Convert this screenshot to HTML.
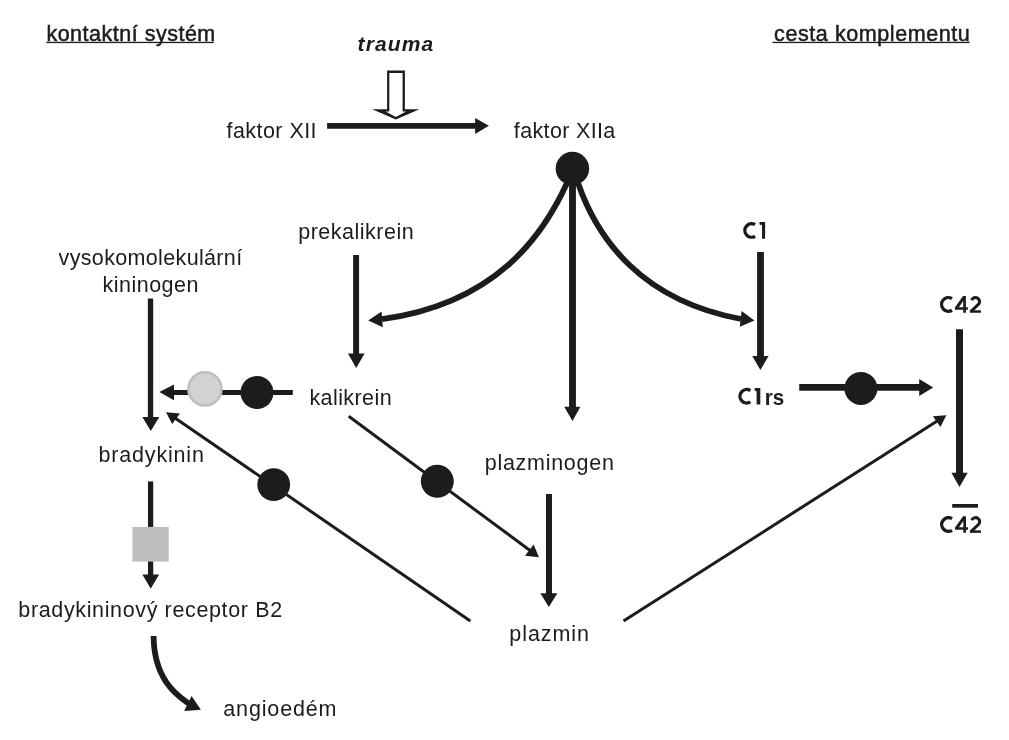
<!DOCTYPE html>
<html><head><meta charset="utf-8">
<style>
html,body{margin:0;padding:0;background:#fff;}
body{width:1009px;height:740px;overflow:hidden;}
svg{display:block;will-change:transform;}
text{font-family:"Liberation Sans",sans-serif;fill:#1d1b1e;}
.t{font-size:21.5px;}
.h{stroke:#1d1b1e;stroke-width:0.5px;}
.b{font-size:23.5px;font-weight:bold;}
</style></head>
<body>
<svg width="1009" height="740" viewBox="0 0 1009 740">
<g fill="#1d1b1e" stroke="none">
<!-- headers -->
<text class="t h" x="46.39" y="40.8" textLength="168.90" lengthAdjust="spacing">kontaktní systém</text>
<rect x="46.2" y="41.8" width="167.6" height="1.3"/>
<text class="t h" x="774.07" y="40.8" textLength="195.76" lengthAdjust="spacing">cesta komplementu</text>
<rect x="772.5" y="41.8" width="197.2" height="1.3"/>
<text x="357.52" y="50.9" style="font-size:21px;font-weight:bold;font-style:italic" textLength="75.71" lengthAdjust="spacing">trauma</text>

<text class="t" x="226.51" y="137.9" textLength="90.09" lengthAdjust="spacing">faktor XII</text>
<text class="t" x="513.85" y="137.6" textLength="101.49" lengthAdjust="spacing">faktor XIIa</text>
<text class="t" x="298.17" y="238.9" textLength="115.54" lengthAdjust="spacing">prekalikrein</text>
<path d="M755.09,224.64 A6.75,6.75 0 1 0 755.09,236.21" fill="none" stroke="#1d1b1e" stroke-width="3.35"/>
<polygon points="759.5,222.05 765.1,222.05 765.1,238.8 762.05,238.8 762.05,225.3 759.5,224.6"/>
<text class="t" x="58.60" y="264.8" textLength="183.56" lengthAdjust="spacing">vysokomolekulární</text>
<text class="t" x="102.47" y="291.8" textLength="96.00" lengthAdjust="spacing">kininogen</text>
<text class="t" x="309.47" y="404.7" textLength="82.16" lengthAdjust="spacing">kalikrein</text>
<path d="M750.32,390.65 A6.7,6.7 0 1 0 750.32,401.85" fill="none" stroke="#1d1b1e" stroke-width="3.35"/>
<polygon points="754.6,387.9 760.3,387.9 760.3,404.6 756.6,404.6 756.6,391.2 754.6,390.5"/>
<text class="b" style="font-size:21.5px" x="764.63" y="404.6" textLength="19.46" lengthAdjust="spacingAndGlyphs">rs</text>
<text class="t" x="98.44" y="461.8" textLength="105.51" lengthAdjust="spacing">bradykinin</text>
<text class="t" x="484.74" y="469.8" textLength="129.13" lengthAdjust="spacing">plazminogen</text>
<g>
<path d="M951.94,298.56 A6.825,6.825 0 1 0 951.94,310.24" fill="none" stroke="#1d1b1e" stroke-width="3.35"/>
<path fill-rule="evenodd" d="M963.0,296.05 L965.9,296.05 L965.9,307.2 L967.9,307.2 L967.9,309.7 L965.9,309.7 L965.9,312.75 L963.2,312.75 L963.2,309.7 L954.9,309.7 L954.9,307.5 Z M963.2,300.9 L963.2,307.2 L958.9,307.2 Z"/>
<path d="M971.7,300.2 A4.05,4.05 0 1 1 978.6,304.2 L970.9,311.5" fill="none" stroke="#1d1b1e" stroke-width="3.1"/>
<rect x="969.8" y="310.3" width="11.1" height="2.45"/>
</g>
<g transform="translate(0.1,220.1)">
<path d="M951.94,298.56 A6.825,6.825 0 1 0 951.94,310.24" fill="none" stroke="#1d1b1e" stroke-width="3.35"/>
<path fill-rule="evenodd" d="M963.0,296.05 L965.9,296.05 L965.9,307.2 L967.9,307.2 L967.9,309.7 L965.9,309.7 L965.9,312.75 L963.2,312.75 L963.2,309.7 L954.9,309.7 L954.9,307.5 Z M963.2,300.9 L963.2,307.2 L958.9,307.2 Z"/>
<path d="M971.7,300.2 A4.05,4.05 0 1 1 978.6,304.2 L970.9,311.5" fill="none" stroke="#1d1b1e" stroke-width="3.1"/>
<rect x="969.8" y="310.3" width="11.1" height="2.45"/>
</g>
<rect x="952.2" y="504" width="25.8" height="3.7"/>
<text class="t" x="18.36" y="616.7" textLength="263.75" lengthAdjust="spacing">bradykininový receptor B2</text>
<text class="t" x="509.33" y="640.5" textLength="79.71" lengthAdjust="spacing">plazmin</text>
<text class="t" x="223.29" y="715.5" textLength="113.24" lengthAdjust="spacing">angioedém</text>
</g>

<!-- hollow trauma arrow -->
<polygon points="387.1,70.5 404.9,70.5 404.9,109.2 419.5,109.2 395.8,119.5 372.1,109.2 387.1,109.2" fill="#1d1b1e"/>
<polygon points="389.3,73.1 402.6,73.1 402.6,111.6 406,111.6 395.8,116.9 385.7,111.6 389.3,111.6" fill="#fff"/>

<g stroke="#1d1b1e" fill="none">
<!-- faktor XII -> XIIa -->
<line x1="327.1" y1="125.9" x2="476" y2="125.9" stroke-width="5.85"/>
<!-- center vertical -->
<line x1="572.5" y1="168" x2="572.5" y2="407.5" stroke-width="6.85"/>
<!-- curves -->
<path d="M567,183 C543.3,234.9 496.5,303.6 382,319.2" stroke-width="5.8"/>
<path d="M578,183 C597.4,238.9 641.3,300.4 741,319" stroke-width="5.8"/>
<!-- prekalikrein -->
<line x1="356.1" y1="255" x2="356.1" y2="354" stroke-width="5.95"/>
<!-- C1 -->
<line x1="760.5" y1="252" x2="760.5" y2="356.5" stroke-width="6.85"/>
<!-- kininogen -->
<line x1="150.5" y1="298.5" x2="150.5" y2="417.8" stroke-width="5.35"/>
<!-- kalikrein left -->
<line x1="173" y1="392.5" x2="292.8" y2="392.5" stroke-width="5"/>
<!-- C1rs -> -->
<line x1="799.2" y1="387.4" x2="920" y2="387.4" stroke-width="6.8"/>
<!-- C42 down -->
<line x1="959.5" y1="329.2" x2="959.5" y2="473.5" stroke-width="7"/>
<!-- bradykinin down -->
<line x1="150.6" y1="481.4" x2="150.6" y2="575" stroke-width="5.3"/>
<!-- plazminogen down -->
<line x1="549" y1="494" x2="549" y2="594" stroke-width="5.95"/>
<!-- diagonals -->
<line x1="470.3" y1="620.9" x2="175" y2="418" stroke-width="3"/>
<line x1="348.7" y1="416.3" x2="530" y2="550.5" stroke-width="3"/>
<line x1="623.5" y1="621" x2="938" y2="420.5" stroke-width="3"/>
<!-- bottom curve -->
<path d="M153.6,636 C153.9,683.7 182.1,698.1 189,703.8" stroke-width="5.8"/>
</g>

<g fill="#1d1b1e">
<polygon points="475.1,117.9 488.9,125.8 475.1,133.9"/>
<circle cx="572.4" cy="168.5" r="16.75"/>
<polygon points="564.2,406.7 580.4,406.7 572.5,420.9"/>
<polygon points="368.2,320.5 381.6,311.4 382.8,327.2"/>
<polygon points="754.4,320.4 741.6,311.1 739.8,326.7"/>
<polygon points="347.9,353.4 364.6,353.4 356.2,368.1"/>
<polygon points="752.2,355.9 768.6,355.9 760.4,370"/>
<polygon points="142.3,417.1 159.3,417.1 150.8,430.9"/>
<polygon points="159.3,392.1 174,384.4 174,400.3"/>
<circle cx="257" cy="392.5" r="16.5"/>
<polygon points="919.2,379 933.2,387.4 919.2,395.9"/>
<circle cx="860.9" cy="388.4" r="16.5"/>
<polygon points="951.4,472.8 967.7,472.8 959.5,487"/>
<polygon points="142.4,574.4 159.1,574.4 150.7,588.8"/>
<polygon points="540.4,593.2 557.4,593.2 548.8,607.1"/>
<polygon points="166,412.2 179.9,413.4 172.2,424.1"/>
<circle cx="273.7" cy="484.6" r="16.4"/>
<polygon points="539,557.2 525,555.8 533.6,544.6"/>
<circle cx="437.3" cy="481.3" r="16.5"/>
<polygon points="946.4,415.3 932.9,416.2 940.4,427.1"/>
<polygon points="200.9,709.8 191.6,696.1 184.1,710.9"/>
</g>
<rect x="132.4" y="526.9" width="36.3" height="34.7" fill="#bcbec0"/>
<circle cx="204.9" cy="388.9" r="16.55" fill="#d1d2d4" stroke="#bcbec0" stroke-width="2.5"/>
</svg>
</body></html>
